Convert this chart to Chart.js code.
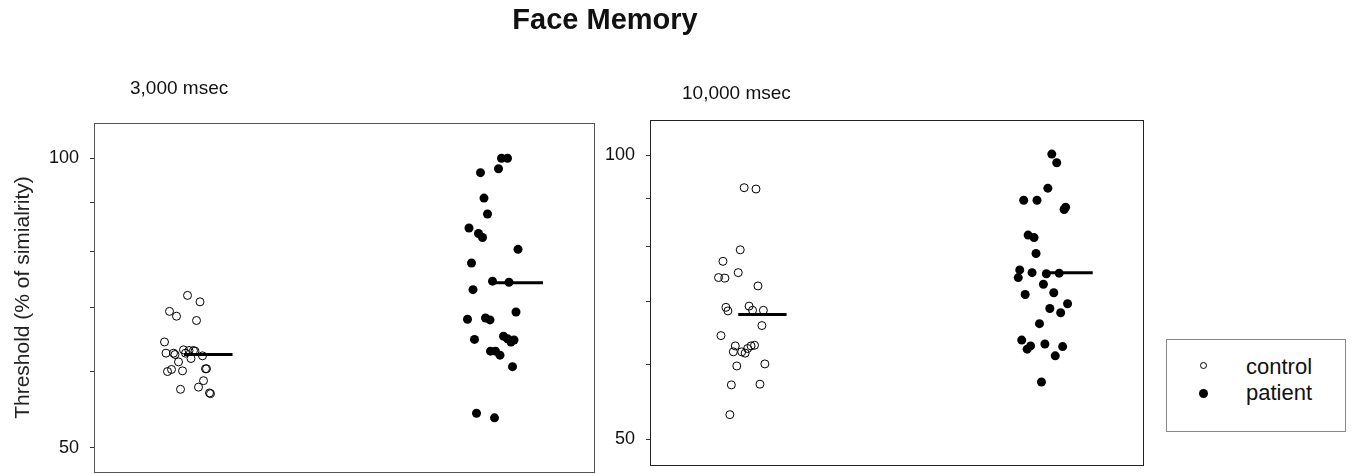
<!DOCTYPE html>
<html>
<head>
<meta charset="utf-8">
<script src="https://cdn.jsdelivr.net/npm/chart.js@4.4.0/dist/chart.umd.min.js"></script>
<style>
    body { margin: 0; background: #fff; font-family: "Liberation Sans", Arial, sans-serif; color: #111; }
    #wrap { position: relative; width: 1352px; height: 474px; overflow: hidden; }
    canvas { position: absolute; top: 0; }
    .txt { position: absolute; white-space: nowrap; }
    #title { left: 0; width: 1210px; top: 5px; text-align: center; font-weight: bold; font-size: 29px; line-height: 29px; }
    .sub { font-size: 19px; line-height: 19px; }
    #legend { position: absolute; left: 1166px; top: 339px; width: 178px; height: 91px; border: 1px solid #888; }
    .leg { font-size: 22px; line-height: 22px; }
    .mark { position: absolute; border-radius: 50%; box-sizing: border-box; }
</style>
</head>
<body>
<div id="wrap">
    <canvas id="panel3000" width="600" height="474" style="left:0"></canvas>
    <canvas id="panel10000" width="560" height="474" style="left:600px"></canvas>

    <div id="title" class="txt">Face Memory</div>
    <div class="txt sub" style="left:130px; top:78px">3,000 msec</div>
    <div class="txt sub" style="left:682px; top:83px">10,000 msec</div>

    <div id="legend"></div>
    <span class="mark" style="left:1200px; top:362px; width:7px; height:7px; border:1px solid #000"></span>
    <span class="mark" style="left:1199px; top:389px; width:9px; height:9px; background:#000"></span>
    <div class="txt leg" style="left:1246px; top:356px">control</div>
    <div class="txt leg" style="left:1246px; top:382px">patient</div>
</div>

<script>
// Axis ticks (log scale), only 50 and 100 carry a label
const tickValues = [50, 60, 70, 80, 90, 100];
const labeledTicks = [50, 100];

// 3,000 msec - control (open circles)
const ctrl3000Values = [72.0, 70.9, 69.3, 68.5, 67.8, 64.4, 62.7, 62.7, 62.5, 63.2, 62.7, 63.1, 63.1, 63.0,
    61.9, 62.3, 61.4, 60.3, 60.0, 60.1, 60.4, 60.4, 58.7, 57.8, 57.5, 57.0, 56.9];
const ctrl3000Jitter = [1.87, 2.12, 1.51, 1.65, 2.05, 1.41, 1.44, 1.59, 1.62, 1.79, 1.83, 1.90, 1.99, 2.02,
    1.94, 2.17, 1.69, 1.55, 1.47, 1.77, 2.23, 2.25, 2.19, 2.09, 1.73, 2.31, 2.33];

// 3,000 msec - patient (filled circles)
const pat3000Values = [100.0, 100.0, 96.6, 97.5, 90.9, 87.5, 84.6, 83.5, 82.7, 80.4, 77.8, 74.5, 74.3, 73.0,
    69.2, 68.0, 68.2, 67.9, 65.3, 64.9, 64.7, 64.4, 64.8, 63.0, 63.0, 62.4, 60.7, 54.3, 53.7];
const pat3000Jitter = [8.15, 8.27, 7.73, 8.09, 7.80, 7.87, 7.50, 7.69, 7.77, 8.48, 7.55, 7.97, 8.30, 7.58,
    8.44, 7.47, 7.83, 7.92, 8.19, 8.27, 8.40, 8.34, 7.61, 7.93, 8.03, 8.12, 8.37, 7.65, 8.01];

// 10,000 msec - control
const ctrl10000Values = [92.4, 92.1, 79.4, 77.2, 75.1, 74.2, 74.1, 72.7, 69.0, 68.4, 69.2, 68.5, 68.5, 66.0,
    64.4, 62.8, 61.9, 61.9, 61.7, 62.4, 62.8, 62.9, 60.1, 59.8, 57.1, 57.2, 53.1];
const ctrl10000Jitter = [1.91, 2.15, 1.83, 1.48, 1.79, 1.39, 1.52, 2.19, 1.54, 1.58, 2.01, 2.08, 2.30, 2.27,
    1.44, 1.73, 1.69, 1.86, 1.93, 1.98, 2.05, 2.12, 2.33, 1.76, 1.65, 2.23, 1.62];

// 10,000 msec - patient
const pat10000Values = [100.3, 98.2, 92.3, 89.6, 89.6, 87.6, 88.1, 82.3, 81.8, 78.7, 75.6, 74.2, 75.1, 74.9,
    75.0, 73.0, 71.2, 71.5, 69.6, 68.8, 68.1, 66.3, 63.7, 62.3, 62.8, 63.1, 62.7, 61.3, 57.5];
const pat10000Jitter = [8.15, 8.25, 8.07, 7.58, 7.85, 8.40, 8.43, 7.67, 7.79, 7.83, 7.50, 7.47, 7.75, 8.04,
    8.30, 7.98, 7.61, 8.19, 8.47, 8.11, 8.33, 7.90, 7.54, 7.65, 7.72, 8.01, 8.37, 8.22, 7.94];

// Median bars: value, and x start / end of each bar [control, patient]
const medians3000 = [62.5, 74.2];
const medianSpan3000 = [[1.80, 2.77], [7.97, 8.98]];
const medians10000 = [67.8, 75.1];
const medianSpan10000 = [[1.79, 2.77], [8.10, 8.98]];

const toPoints = (xs, ys) => ys.map((y, i) => ({ x: xs[i], y: y }));

// Draws the frame around the plot area
const boxPlugin = {
    id: 'panelBox',
    afterDraw(chart, args, opts) {
        const { ctx, chartArea: a } = chart;
        ctx.save();
        ctx.strokeStyle = opts.color || '#000';
        ctx.lineWidth = 1;
        ctx.strokeRect(Math.round(a.left) + 0.5, Math.round(a.top) + 0.5,
            Math.round(a.right - a.left), Math.round(a.bottom - a.top));
        ctx.restore();
    }
};

function makePanel(canvasId, cfg) {
    const ctx = document.getElementById(canvasId).getContext('2d');
    const medianSets = cfg.medians.map((m, i) => ({
        type: 'line',
        data: [{ x: cfg.medianSpan[i][0], y: m }, { x: cfg.medianSpan[i][1], y: m }],
        borderColor: '#000',
        borderWidth: 3,
        pointRadius: 0,
        order: 0
    }));

    return new Chart(ctx, {
        type: 'scatter',
        data: {
            datasets: [
                {
                    label: 'control',
                    data: toPoints(cfg.ctrlX, cfg.ctrlY),
                    backgroundColor: 'rgba(255,255,255,0)',
                    borderColor: '#000',
                    borderWidth: 1,
                    pointRadius: 4,
                    order: 2
                },
                {
                    label: 'patient',
                    data: toPoints(cfg.patX, cfg.patY),
                    backgroundColor: '#000',
                    borderColor: '#000',
                    borderWidth: 0,
                    pointRadius: 4.5,
                    order: 1
                },
                ...medianSets
            ]
        },
        options: {
            responsive: false,
            animation: false,
            events: [],
            layout: { padding: cfg.padding, autoPadding: false },
            plugins: {
                legend: { display: false },
                tooltip: { enabled: false },
                panelBox: { color: cfg.frameColor }
            },
            scales: {
                x: { type: 'linear', min: 0, max: 10, display: false },
                y: {
                    type: 'logarithmic',
                    min: cfg.yMin,
                    max: cfg.yMax,
                    afterBuildTicks: (scale) => { scale.ticks = tickValues.map(v => ({ value: v })); },
                    afterFit: (scale) => {
                        // fixed axis width, and no extra room for the end labels
                        scale.width = cfg.axisWidth;
                        scale.paddingTop = 0;
                        scale.paddingBottom = 0;
                    },
                    ticks: {
                        autoSkip: false,
                        padding: 11,
                        color: '#111',
                        font: { family: 'Liberation Sans', size: 18 },
                        callback: (v) => labeledTicks.includes(v) ? String(v) : ''
                    },
                    grid: { drawOnChartArea: false, drawTicks: true, tickLength: 4, color: '#333' },
                    border: { display: true, color: cfg.frameColor },
                    title: {
                        display: !!cfg.yTitle,
                        text: cfg.yTitle || '',
                        color: '#222',
                        font: { family: 'Liberation Sans', size: 21 },
                        padding: { top: 11, bottom: 0 }
                    }
                }
            }
        },
        plugins: [boxPlugin]
    });
}

makePanel('panel3000', {
    ctrlX: ctrl3000Jitter, ctrlY: ctrl3000Values,
    patX: pat3000Jitter, patY: pat3000Values,
    medians: medians3000, medianSpan: medianSpan3000,
    yMin: 47.17, yMax: 108.8,
    axisWidth: 94,
    padding: { top: 123, bottom: 2, left: 0, right: 6 },
    frameColor: '#555',
    yTitle: 'Threshold (% of simialrity)'
});

makePanel('panel10000', {
    ctrlX: ctrl10000Jitter, ctrlY: ctrl10000Values,
    patX: pat10000Jitter, patY: pat10000Values,
    medians: medians10000, medianSpan: medianSpan10000,
    yMin: 46.96, yMax: 109.0,
    axisWidth: 50,
    padding: { top: 120, bottom: 9, left: 0, right: 17 },
    frameColor: '#222'
});
</script>
</body>
</html>
